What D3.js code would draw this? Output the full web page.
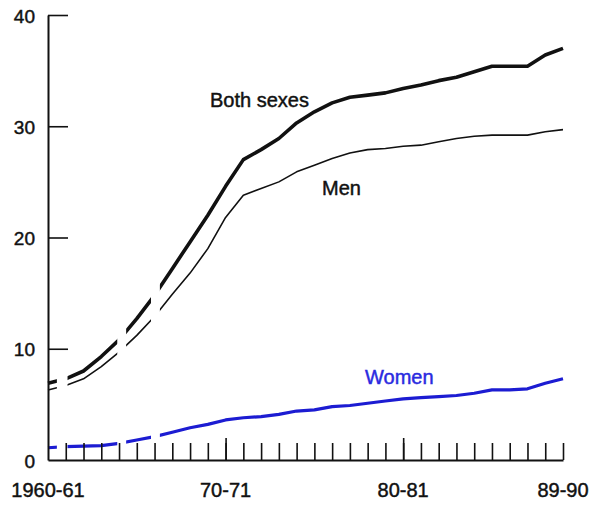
<!DOCTYPE html>
<html>
<head>
<meta charset="utf-8">
<script src="https://cdn.jsdelivr.net/npm/d3@7"></script>
<style>
  html, body { margin: 0; padding: 0; background: #fff; }
  svg { display: block; font-family: "Liberation Sans", Arial, Helvetica, sans-serif; }
  text { paint-order: stroke; stroke-width: 0.45px; }
</style>
</head>
<body>
<svg id="chart" width="594" height="506"></svg>
<script>
// School years, 1960-61 through 1989-90
const years = [
  "1960-61","1961-62","1962-63","1963-64","1964-65","1965-66","1966-67","1967-68","1968-69","1969-70",
  "1970-71","1971-72","1972-73","1973-74","1974-75","1975-76","1976-77","1977-78","1978-79","1979-80",
  "1980-81","1981-82","1982-83","1983-84","1984-85","1985-86","1986-87","1987-88","1988-89","1989-90"
];

const bothSexes = [
  6.9, 7.3, 8.0, 9.3, 10.8, 12.7, 14.8, 17.2, 19.6, 22.0,
  24.6, 27.0, 27.9, 28.9, 30.3, 31.3, 32.1, 32.6, 32.8, 33.0,
  33.4, 33.7, 34.1, 34.4, 34.9, 35.4, 35.4, 35.4, 36.4, 37.0
];

const men = [
  6.3, 6.7, 7.3, 8.4, 9.7, 11.2, 12.9, 14.9, 16.8, 19.0,
  21.8, 23.8, 24.4, 25.0, 25.9, 26.5, 27.1, 27.6, 27.9, 28.0,
  28.2, 28.3, 28.6, 28.9, 29.1, 29.2, 29.2, 29.2, 29.5, 29.7
];

const women = [
  1.1, 1.2, 1.25, 1.3, 1.5, 1.8, 2.1, 2.5, 2.9, 3.2,
  3.6, 3.8, 3.9, 4.1, 4.4, 4.5, 4.8, 4.9, 5.1, 5.3,
  5.5, 5.6, 5.7, 5.8, 6.0, 6.3, 6.3, 6.4, 6.9, 7.3
];

const yTicks = [0, 10, 20, 30, 40];
const xLabels = ["1960-61", "70-71", "80-81", "89-90"];
const xLabelYears = ["1960-61", "1970-71", "1980-81", "1989-90"];
const seriesLabels = ["Both sexes", "Men", "Women"];

const svg = d3.select("#chart");

const x = d3.scaleLinear().domain([0, years.length - 1]).range([48, 563]);
const y = d3.scaleLinear().domain([0, 40]).range([460, 15]);
const idx = name => years.indexOf(name);

// Early years are drawn broken: visible spans in year-index units
const visibleSpans = [[-0.1, 0.5], [1.1, 3.9], [4.4, 5.8], [6.3, 29.5]];
const clip = svg.append("defs").append("clipPath").attr("id", "broken");
clip.selectAll("rect").data(visibleSpans).join("rect")
  .attr("x", d => x(d[0]))
  .attr("width", d => x(d[1]) - x(d[0]))
  .attr("y", 0)
  .attr("height", 506);

const line = d3.line()
  .x((d, i) => x(i))
  .y(d => y(d));

const series = [
  { values: bothSexes, color: "#111", width: 3.6 },
  { values: men, color: "#111", width: 1.6 },
  { values: women, color: "#1c1cd2", width: 3.2 }
];

svg.append("g").attr("clip-path", "url(#broken)")
  .selectAll("path").data(series).join("path")
  .attr("d", d => line(d.values))
  .attr("fill", "none")
  .attr("stroke", d => d.color)
  .attr("stroke-width", d => d.width)
  .attr("stroke-linejoin", "round");

// Y axis: inward ticks, labels on the left
const yAxis = svg.append("g").attr("transform", `translate(${x(0)},0)`)
  .call(d3.axisRight(y).tickValues(yTicks.filter(v => v > 0)).tickSize(20).tickSizeOuter(0).tickFormat(""));
yAxis.select(".domain").attr("stroke", "#111").attr("stroke-width", 2);
yAxis.selectAll(".tick line").attr("stroke", "#111").attr("stroke-width", 1.6);

svg.append("g").selectAll("text").data(yTicks).join("text")
  .attr("x", 35)
  .attr("y", d => y(d))
  .attr("dy", "0.4em")
  .attr("text-anchor", "end")
  .attr("font-size", 19)
  .attr("fill", "#111")
  .attr("stroke", "#111")
  .text(d => d);

// X axis: minor ticks every year, taller ticks at each decade
const xAxis = svg.append("g").attr("transform", `translate(0,${y(0)})`)
  .call(d3.axisBottom(x).tickValues(d3.range(1, years.length)).tickSize(-17).tickSizeOuter(0).tickFormat(""));
xAxis.select(".domain").attr("stroke", "#111").attr("stroke-width", 2);
xAxis.selectAll(".tick line").attr("stroke", "#111").attr("stroke-width", 1.6);

const xMajor = svg.append("g").attr("transform", `translate(0,${y(0)})`)
  .call(d3.axisBottom(x).tickValues([idx("1970-71"), idx("1980-81")]).tickSize(-22).tickFormat(""));
xMajor.select(".domain").remove();
xMajor.selectAll(".tick line").attr("stroke", "#111").attr("stroke-width", 1.6);

svg.append("g").selectAll("text").data(xLabels).join("text")
  .attr("x", (d, i) => x(idx(xLabelYears[i])))
  .attr("y", 497)
  .attr("text-anchor", "middle")
  .attr("font-size", 20)
  .attr("fill", "#111")
  .attr("stroke", "#111")
  .text(d => d);

// Series labels
const labelPos = [
  { x: 210, y: 107, color: "#111" },
  { x: 322, y: 195, color: "#111" },
  { x: 365, y: 384, color: "#2a2ae0" }
];
svg.append("g").selectAll("text").data(seriesLabels).join("text")
  .attr("x", (d, i) => labelPos[i].x)
  .attr("y", (d, i) => labelPos[i].y)
  .attr("font-size", 20)
  .attr("fill", (d, i) => labelPos[i].color)
  .attr("stroke", (d, i) => labelPos[i].color)
  .text(d => d);
</script>
</body>
</html>
